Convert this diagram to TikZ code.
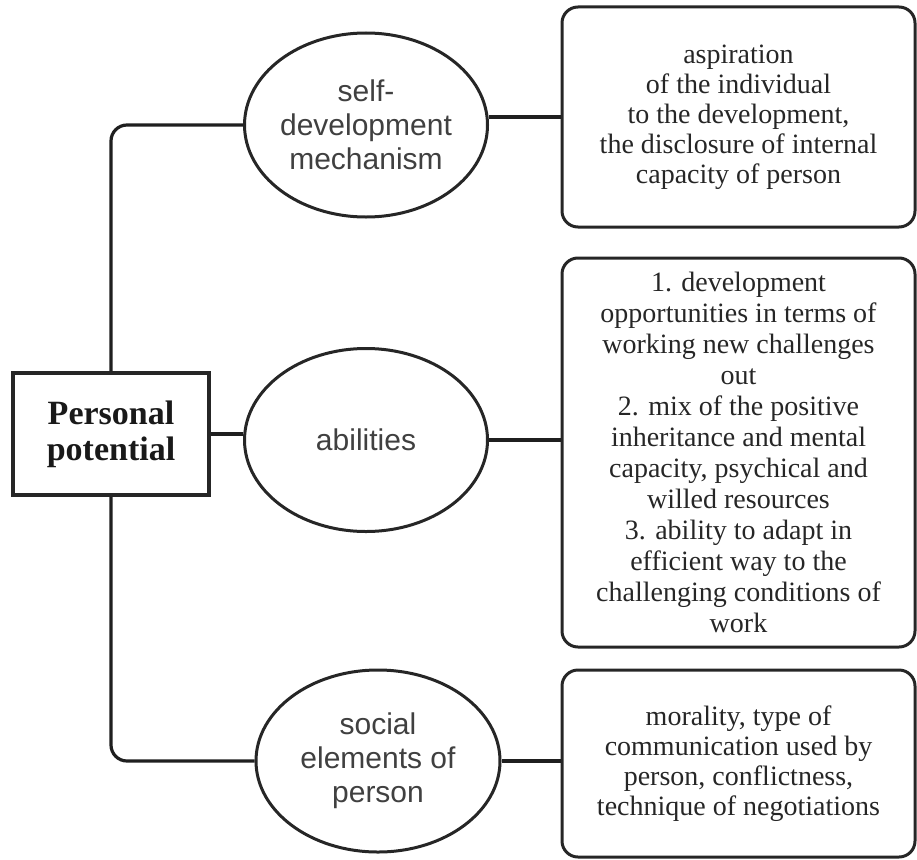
\documentclass[tikz,border=0pt]{standalone}
\usepackage{fontspec}
\setmainfont{Liberation Serif}
\newfontfamily\arialf{Liberation Sans}
\usetikzlibrary{shapes.geometric}
\begin{document}
\begin{tikzpicture}[x=1pt,y=-1pt,
  conn/.style={line width=3.2pt, draw=black!88, rounded corners=16pt},
  ovalnode/.style={ellipse, draw=black!85, line width=3pt, align=center, inner sep=0pt,
     font=\arialf\fontsize{30}{34}\selectfont, text=black!75},
  infobox/.style={rectangle, rounded corners=16pt, draw=black!85, line width=3pt, align=center,
     minimum width=353pt, inner sep=0pt, font=\fontsize{28}{30}\selectfont, text=black!85},
  rootbox/.style={rectangle, draw=black!85, line width=3.2pt, align=center,
     minimum width=196pt, minimum height=122pt, inner sep=0pt, font=\bfseries\fontsize{34}{36}\selectfont, text=black!90}
]
\useasboundingbox (0,0) rectangle (917,859);

\node[rootbox] (pp) at (111,434) {Personal\\potential};

\node[ovalnode, minimum width=243pt, minimum height=184pt] (e1) at (366,125) {self-\\development\\mechanism};
\node[ovalnode, minimum width=243pt, minimum height=183pt] (e2) at (366,440) {abilities};
\node[ovalnode, minimum width=244pt, minimum height=182pt] (e3) at (378,761) {social\\elements of\\person};

\node[infobox, minimum height=220pt] (b1) at (738.5,117) {aspiration\\of the individual\\to the development,\\the disclosure of internal\\capacity of person};
\node[infobox, minimum height=389pt, font=\fontsize{28}{31}\selectfont] (b2) at (738.5,452.5) {1. development\\opportunities in terms of\\working new challenges\\out\\2. mix of the positive\\inheritance and mental\\capacity, psychical and\\willed resources\\3. ability to adapt in\\efficient way to the\\challenging conditions of\\work};
\node[infobox, minimum height=187pt] (b3) at (738.5,763.5) {morality, type of\\communication used by\\person, conflictness,\\technique of negotiations};

\draw[conn] (pp.north) |- (e1.west);
\draw[conn] (pp.south) |- (e3.west);
\draw[conn] (pp.east) -- (pp.east -| e2.west);
\draw[conn] (e1.east |- b1.west) -- (b1.west);
\draw[conn] (e2.east) -- (e2.east -| b2.west);
\draw[conn] (e3.east) -- (e3.east -| b3.west);
\end{tikzpicture}
\end{document}
